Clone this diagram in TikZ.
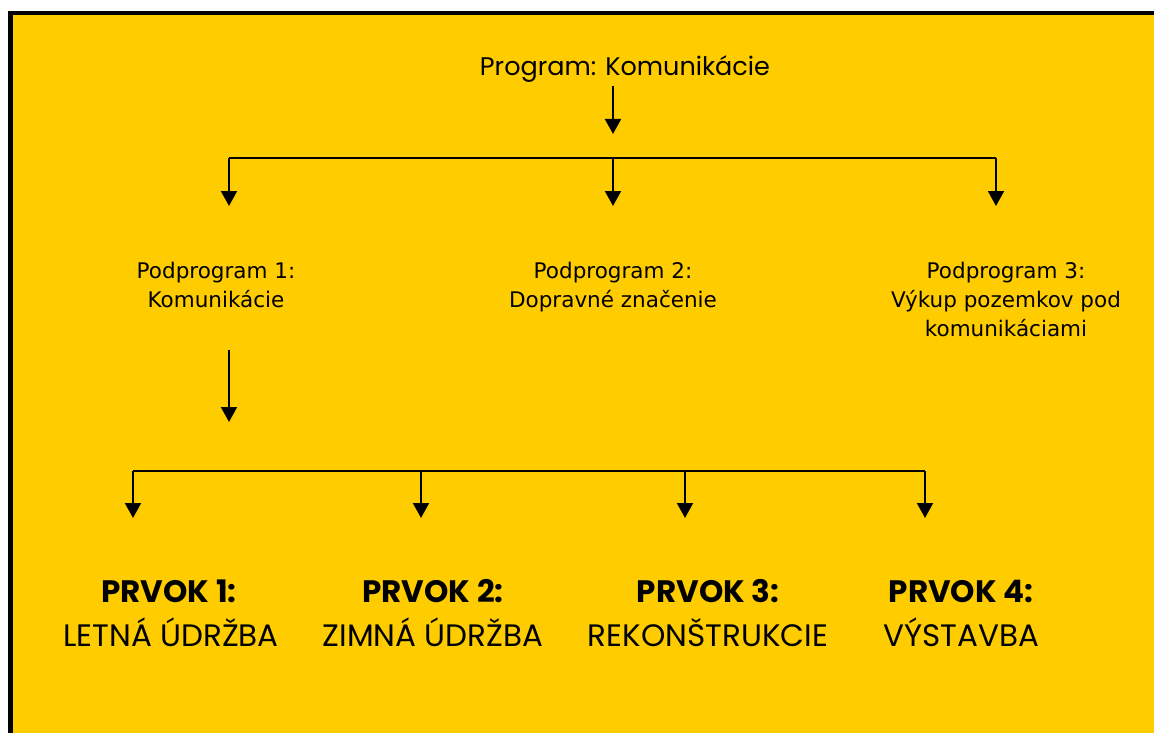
\documentclass[tikz,border=0pt]{standalone}
\usepackage{fontspec}
\setmainfont{DejaVu Sans}
\newfontfamily\geo{Poppins}
\usetikzlibrary{arrows.meta}
\definecolor{bg}{HTML}{FFCC00}
\begin{document}
\begin{tikzpicture}[x=1pt,y=-1pt,
  conn/.style={line width=2pt,-{Triangle[width=16pt,length=15pt]}},
  bar/.style={line width=2pt},
  titletext/.style={font=\geo\fontsize{25.5}{30}\selectfont, inner sep=0pt, anchor=base},
  sub/.style={font=\fontsize{21.5}{29}\selectfont, align=center, inner sep=0pt, anchor=base},
  elhead/.style={font=\geo\bfseries\fontsize{31}{36}\selectfont, inner sep=0pt, anchor=base},
  elbody/.style={font=\geo\fontsize{31}{36}\selectfont, inner sep=0pt, anchor=base}]
\useasboundingbox (0,0) rectangle (1154,733);
\clip (0,0) rectangle (1154,733);
\fill[white] (0,0) rectangle (1154,733);
\draw[line width=4.5pt, fill=bg] (10.5,13.25) rectangle (1180,760);

% title
\node[titletext] (t) at (625,76) {Program: Komunikácie};
\coordinate (ts) at (613,86);
\coordinate (te) at (613,134);
\draw[conn] (ts) -- (te);

% first bracket
\coordinate (b1) at (229,158);
\coordinate (b2) at (613,158);
\coordinate (b3) at (996,158);
\coordinate (p1t) at (229,206);
\coordinate (p2t) at (613,206);
\coordinate (p3t) at (996,206);
\draw[bar] (b1) -- (b3);
\draw[conn] (b1) -- (p1t);
\draw[conn] (b2) -- (p2t);
\draw[conn] (b3) -- (p3t);

% subprograms (anchor = baseline of last line)
\node[sub] (p1) at (216,307) {Podprogram 1:\\Komunikácie};
\node[sub] (p2) at (613,307) {Podprogram 2:\\Dopravné značenie};
\node[sub] (p3) at (1006,336) {Podprogram 3:\\Výkup pozemkov pod\\komunikáciami};

% arrow to elements
\coordinate (p1b) at (229,350);
\coordinate (c1) at (229,422);
\draw[conn] (p1b) -- (c1);

% second bracket
\coordinate (d1) at (133,471);
\coordinate (d2) at (421,471);
\coordinate (d3) at (685,471);
\coordinate (d4) at (925,471);
\coordinate (e1t) at (133,518);
\coordinate (e2t) at (421,518);
\coordinate (e3t) at (685,518);
\coordinate (e4t) at (925,518);
\draw[bar] (d1) -- (d4);
\draw[conn] (d1) -- (e1t);
\draw[conn] (d2) -- (e2t);
\draw[conn] (d3) -- (e3t);
\draw[conn] (d4) -- (e4t);

% elements
\node[elhead] (h1) at (169,602) {PRVOK 1:};
\node[elbody] (l1) at (171,646) {LETNÁ ÚDRŽBA};
\node[elhead] (h2) at (433,602) {PRVOK 2:};
\node[elbody] (l2) at (433,646) {ZIMNÁ ÚDRŽBA};
\node[elhead] (h3) at (708,602) {PRVOK 3:};
\node[elbody] (l3) at (708,646) {REKONŠTRUKCIE};
\node[elhead] (h4) at (961,602) {PRVOK 4:};
\node[elbody] (l4) at (961,646) {VÝSTAVBA};
\end{tikzpicture}
\end{document}
